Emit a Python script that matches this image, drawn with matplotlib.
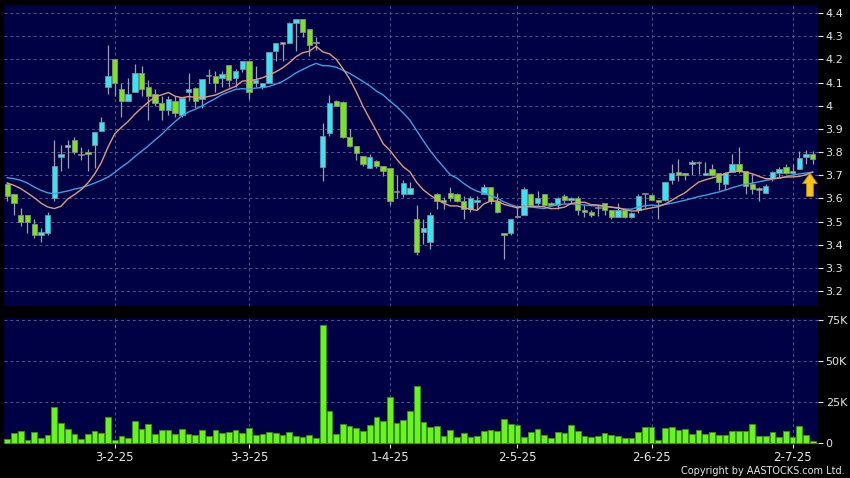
import numpy as np
import pandas as pd
import matplotlib
matplotlib.use('Agg')
import matplotlib.pyplot as plt
from matplotlib.patches import FancyArrow

# daily OHLC (HKD)
open_ = [3.66, 3.62, 3.53, 3.53, 3.49, 3.44, 3.45, 3.60, 3.78, 3.82,
         3.85, 3.79, 3.80, 3.83, 3.89, 4.08, 4.20, 4.07, 4.02, 4.06,
         4.14, 4.08, 4.05, 4.01, 3.98, 4.02, 3.96, 4.06, 4.075, 4.03,
         4.13, 4.13, 4.12, 4.175, 4.12, 4.16, 4.195, 4.10, 4.08, 4.10,
         4.235, 4.27, 4.27, 4.355, 4.375, 4.33, 4.27, 3.735, 3.88, 4.02,
         4.015, 3.865, 3.825, 3.785, 3.73, 3.76, 3.74, 3.73, 3.63, 3.62,
         3.62, 3.51, 3.455, 3.41, 3.62, 3.59, 3.625, 3.62, 3.59, 3.555,
         3.585, 3.62, 3.65, 3.59, 3.45, 3.45, 3.52, 3.53, 3.62, 3.58,
         3.62, 3.58, 3.57, 3.61, 3.595, 3.60, 3.55, 3.54, 3.56, 3.58,
         3.55, 3.52, 3.55, 3.52, 3.55, 3.62, 3.615, 3.595, 3.595, 3.68,
         3.715, 3.71, 3.75, 3.755, 3.70, 3.725, 3.71, 3.66, 3.715, 3.75,
         3.72, 3.66, 3.64, 3.625, 3.69, 3.71, 3.735, 3.71, 3.725, 3.78,
         3.79]
high = [3.67, 3.62, 3.56, 3.53, 3.51, 3.47, 3.54, 3.85, 3.83, 3.85,
        3.865, 3.82, 3.815, 3.885, 3.95, 4.26, 4.20, 4.10, 4.12, 4.18,
        4.17, 4.11, 4.07, 4.04, 4.04, 4.04, 4.035, 4.14, 4.08, 4.115,
        4.16, 4.15, 4.15, 4.175, 4.16, 4.195, 4.195, 4.17, 4.10, 4.23,
        4.27, 4.27, 4.36, 4.375, 4.375, 4.33, 4.295, 3.925, 4.045, 4.025,
        4.02, 3.90, 3.825, 3.785, 3.79, 3.765, 3.74, 3.73, 3.70, 3.68,
        3.67, 3.57, 3.51, 3.54, 3.625, 3.605, 3.65, 3.625, 3.61, 3.61,
        3.61, 3.66, 3.65, 3.625, 3.45, 3.51, 3.565, 3.65, 3.625, 3.63,
        3.62, 3.585, 3.605, 3.62, 3.605, 3.61, 3.57, 3.55, 3.57, 3.58,
        3.55, 3.58, 3.55, 3.54, 3.62, 3.62, 3.62, 3.595, 3.67, 3.75,
        3.77, 3.71, 3.765, 3.76, 3.755, 3.75, 3.71, 3.715, 3.79, 3.82,
        3.72, 3.705, 3.65, 3.66, 3.72, 3.735, 3.75, 3.75, 3.805, 3.81,
        3.805]
low = [3.59, 3.53, 3.48, 3.45, 3.43, 3.41, 3.44, 3.59, 3.72, 3.73,
       3.79, 3.765, 3.72, 3.73, 3.89, 4.05, 4.04, 3.95, 4.02, 4.06,
       4.04, 3.94, 4.00, 3.94, 3.96, 3.95, 3.95, 4.02, 3.99, 3.99,
       4.10, 4.06, 4.08, 4.08, 4.08, 4.145, 4.03, 4.08, 4.07, 4.10,
       4.195, 4.195, 4.27, 4.235, 4.295, 4.215, 4.24, 3.675, 3.87, 4.00,
       3.86, 3.82, 3.765, 3.74, 3.73, 3.73, 3.695, 3.57, 3.60, 3.605,
       3.62, 3.355, 3.405, 3.38, 3.555, 3.555, 3.59, 3.585, 3.51, 3.54,
       3.55, 3.62, 3.575, 3.535, 3.34, 3.44, 3.52, 3.53, 3.565, 3.57,
       3.565, 3.565, 3.555, 3.58, 3.58, 3.53, 3.52, 3.52, 3.525, 3.53,
       3.51, 3.52, 3.515, 3.515, 3.535, 3.56, 3.595, 3.51, 3.59, 3.66,
       3.675, 3.68, 3.70, 3.705, 3.70, 3.695, 3.635, 3.635, 3.715, 3.71,
       3.62, 3.62, 3.59, 3.625, 3.675, 3.69, 3.705, 3.705, 3.725, 3.75,
       3.75]
close = [3.61, 3.58, 3.50, 3.50, 3.44, 3.455, 3.53, 3.74, 3.79, 3.83,
         3.80, 3.79, 3.79, 3.885, 3.93, 4.13, 4.10, 4.02, 4.05, 4.14,
         4.07, 4.04, 4.01, 3.98, 4.03, 3.97, 4.035, 4.07, 4.02, 4.115,
         4.13, 4.10, 4.135, 4.11, 4.15, 4.195, 4.06, 4.11, 4.10, 4.23,
         4.27, 4.27, 4.355, 4.375, 4.32, 4.26, 4.275, 3.87, 4.01, 4.00,
         3.865, 3.825, 3.795, 3.75, 3.78, 3.74, 3.72, 3.59, 3.63, 3.665,
         3.645, 3.37, 3.47, 3.53, 3.59, 3.585, 3.60, 3.59, 3.555, 3.60,
         3.59, 3.65, 3.59, 3.54, 3.44, 3.51, 3.525, 3.64, 3.57, 3.60,
         3.57, 3.57, 3.60, 3.595, 3.60, 3.55, 3.54, 3.53, 3.56, 3.55,
         3.52, 3.55, 3.52, 3.535, 3.61, 3.62, 3.595, 3.585, 3.67, 3.71,
         3.70, 3.70, 3.755, 3.755, 3.71, 3.70, 3.67, 3.71, 3.75, 3.72,
         3.655, 3.64, 3.64, 3.655, 3.715, 3.725, 3.71, 3.715, 3.775, 3.79,
         3.77]
# volume in thousands of shares
volume = [2.4, 6.1, 7.7, 2.0, 6.9, 3.3, 5.1, 22.0, 12.2, 8.7,
          5.5, 2.6, 5.7, 7.5, 6.3, 16.3, 2.0, 4.7, 3.0, 13.6,
          8.5, 12.0, 5.5, 7.9, 7.9, 5.9, 8.7, 5.9, 5.1, 8.3,
          4.7, 8.1, 6.3, 6.7, 7.9, 6.3, 9.4, 5.1, 5.5, 6.9,
          6.1, 4.9, 6.9, 4.7, 3.7, 4.9, 3.3, 72.2, 19.9, 5.7,
          11.6, 10.6, 9.6, 7.5, 11.0, 15.9, 13.4, 28.1, 12.6, 14.4,
          19.7, 34.8, 13.0, 9.8, 10.6, 4.3, 8.1, 3.7, 6.1, 3.9,
          4.5, 7.5, 8.3, 7.5, 14.8, 11.8, 11.4, 3.7, 6.9, 8.5,
          4.9, 3.3, 6.7, 6.3, 11.0, 7.3, 4.3, 3.9, 4.7, 6.3,
          4.9, 4.7, 3.5, 3.5, 6.7, 9.8, 10.0, 2.0, 9.4, 10.2,
          8.1, 8.9, 5.9, 8.1, 5.7, 6.7, 4.9, 4.9, 7.5, 7.3,
          7.5, 11.6, 4.3, 4.3, 6.7, 3.9, 7.7, 3.9, 10.8, 4.9,
          1.6]
# moving averages before enough closes are on the chart
ma10_head = [3.666, 3.656, 3.642, 3.623, 3.603, 3.58, 3.563, 3.556, 3.566]
ma20_head = [3.689, 3.685, 3.678, 3.666, 3.649, 3.635, 3.624, 3.62, 3.626, 3.632,
             3.64, 3.646, 3.655, 3.666, 3.678, 3.692, 3.712, 3.735, 3.755]

tick_dates = ['2025-02-03', '2025-03-03', '2025-04-01', '2025-05-02', '2025-06-02', '2025-07-02']
price_ticks = [3.2, 3.3, 3.4, 3.5, 3.6, 3.7, 3.8, 3.9, 4.0, 4.1, 4.2, 4.3, 4.4]
vol_ticks = [0, 25, 50, 75]
vol_labels = ['0', '25K', '50K', '75K']

# HKEX trading days
holidays = pd.to_datetime(['2025-01-29', '2025-01-30', '2025-01-31', '2025-04-04', '2025-04-18',
                           '2025-04-21', '2025-05-01', '2025-05-05', '2025-07-01'])
days = pd.bdate_range('2025-01-07', '2025-08-29')
days = days[~days.isin(holidays)][:len(close)]

df = pd.DataFrame({'open': open_, 'high': high, 'low': low, 'close': close, 'vol': volume}, index=days)
x = np.arange(len(df))
ma10 = df['close'].rolling(10).mean().values
ma10[:len(ma10_head)] = ma10_head
ma20 = df['close'].rolling(20).mean().values
ma20[:len(ma20_head)] = ma20_head

tick_pos = [days.get_loc(pd.Timestamp(d)) for d in tick_dates]
tick_lab = [f"{pd.Timestamp(d).day}-{pd.Timestamp(d).month}-{pd.Timestamp(d):%y}" for d in tick_dates]

BG = '#000044'
GRID = '#55558a'
UP = '#33e6f6'
DOWN = '#78e61e'
TXT = '#e6e6e6'

fig = plt.figure(figsize=(8.5, 4.78), dpi=100, facecolor='black')
ax = fig.add_axes([0.0047, 0.3598, 0.9577, 0.6297], facecolor=BG)
axv = fig.add_axes([0.0047, 0.0711, 0.9577, 0.2636], facecolor=BG)

# candles
up = df['close'] > df['open']
down = df['close'] < df['open']
flat = ~(up | down)
ax.vlines(x, df['low'], df['high'], color='#a0a0a0', lw=0.9, zorder=2)
body_lo = np.minimum(df['open'], df['close'])
body_h = np.maximum((df['close'] - df['open']).abs(), 0.006)
ax.bar(x[up], body_h[up], bottom=body_lo[up], width=0.8, color=UP, edgecolor='#8a8a8a', lw=0.6, zorder=3)
ax.bar(x[down], body_h[down], bottom=body_lo[down], width=0.8, color=DOWN, edgecolor='#8a8a8a', lw=0.6, zorder=3)
ax.bar(x[flat], body_h[flat], bottom=body_lo[flat] - 0.003, width=0.8, color='#b0b0b0', edgecolor='#8a8a8a', lw=0.4, zorder=3)

ax.plot(x, ma20, color='#3aa2e2', lw=1.0, zorder=4)
ax.plot(x, ma10, color='#e49a78', lw=1.0, zorder=4)

# yellow arrow under the last candle
ax.add_patch(FancyArrow(x[-1] - 0.4, ma10[-1] - 0.105, 0, 0.1, width=1.0, head_width=2.2,
                        head_length=0.045, length_includes_head=True,
                        facecolor='#f7c21a', edgecolor='#c88a00', lw=0.6, zorder=5))

ax.set_xlim(-0.5, len(df) - 0.2)
ax.set_ylim(3.1354, 4.4345)
ax.set_yticks(price_ticks)
ax.set_yticklabels([f'{v:g}' for v in price_ticks])
ax.set_xticks(tick_pos)
ax.tick_params(axis='x', length=0, labelbottom=False)
ax.yaxis.tick_right()
ax.tick_params(axis='y', colors=TXT, labelsize=8, length=3.5, width=0.8, pad=2)
ax.grid(True, color=GRID, ls=(0, (3, 3)), lw=0.7)
ax.set_axisbelow(True)
for s in ax.spines.values():
    s.set_visible(False)

# volume
axv.bar(x, df['vol'], width=0.85, color='#66f51c', edgecolor='#3f8f18', lw=0.6, zorder=3)
axv.set_xlim(-0.5, len(df) - 0.2)
axv.set_ylim(-0.4, 76.2)
axv.set_yticks(vol_ticks)
axv.set_yticklabels(vol_labels)
axv.yaxis.tick_right()
axv.set_xticks(tick_pos)
axv.set_xticklabels(tick_lab)
axv.tick_params(axis='y', colors=TXT, labelsize=8, length=3.5, width=0.8, pad=2)
axv.tick_params(axis='x', colors=TXT, labelsize=8.5, length=3, width=0.8, pad=2)
axv.grid(True, color=GRID, ls=(0, (3, 3)), lw=0.7)
axv.set_axisbelow(True)
for s in axv.spines.values():
    s.set_visible(False)

fig.text(0.994, 0.0146, 'Copyright by AASTOCKS.com Ltd.', ha='right', va='center', color=TXT, fontsize=7)

fig.savefig('out.png', dpi=100, facecolor='black')
